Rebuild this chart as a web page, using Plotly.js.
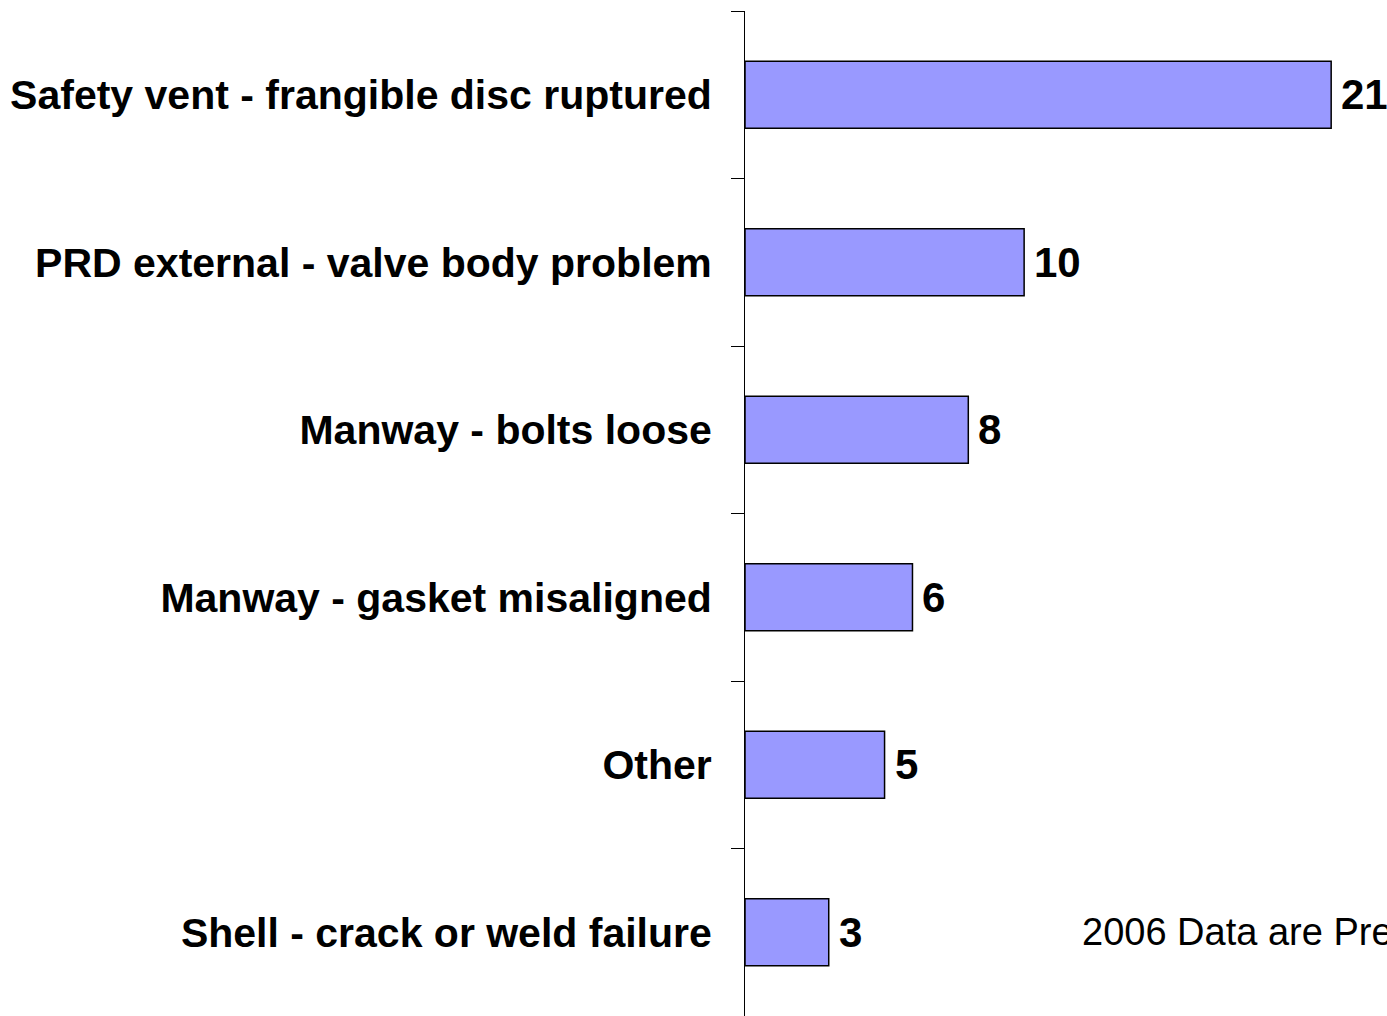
<!DOCTYPE html>
<html>
<head>
<meta charset="utf-8">
<script src="https://cdn.plot.ly/plotly-3.0.1.min.js"></script>
<style>html,body{margin:0;padding:0;background:#fff;overflow:hidden;}</style>
</head>
<body>
<div id="chart" style="width:1387px;height:1016px;"></div>
<script>
var categories = [
  "Safety vent - frangible disc ruptured",
  "PRD external - valve body problem",
  "Manway - bolts loose",
  "Manway - gasket misaligned",
  "Other",
  "Shell - crack or weld failure"
];
var counts = [21, 10, 8, 6, 5, 3];
var noteText = "2006 Data are Preliminary";

var font = "Liberation Sans, Arial, Helvetica, sans-serif";

var trace = {
  type: "bar",
  orientation: "h",
  y: categories,
  x: counts,
  marker: {color: "#9999FF", line: {color: "#000000", width: 1.5}},
  width: 0.4,
  hoverinfo: "none"
};

var valueLabels = categories.map(function (c, i) {
  return {
    xref: "x", yref: "y",
    x: counts[i], y: c,
    xanchor: "left", yanchor: "middle",
    xshift: 8,
    text: String(counts[i]),
    showarrow: false,
    font: {family: font, size: 42, color: "#000", weight: "bold"}
  };
});

var layout = {
  width: 1387,
  height: 1016,
  margin: {l: 745, r: 0, t: 11, b: 0, pad: 0},
  paper_bgcolor: "#ffffff",
  plot_bgcolor: "#ffffff",
  showlegend: false,
  xaxis: {
    range: [0, 23],
    visible: false,
    fixedrange: true
  },
  yaxis: {
    type: "category",
    autorange: "reversed",
    showline: true,
    linecolor: "#000000",
    linewidth: 1,
    ticks: "outside",
    tickson: "boundaries",
    ticklen: 13,
    tickwidth: 1,
    tickcolor: "#000000",
    ticklabelstandoff: 24,
    showgrid: false,
    zeroline: false,
    automargin: false,
    tickfont: {family: font, size: 41, color: "#000", weight: "bold"},
    fixedrange: true
  },
  annotations: valueLabels.concat([{
    xref: "x", yref: "y",
    x: 12.0, y: categories[5],
    xanchor: "left", yanchor: "middle",
    text: noteText,
    showarrow: false,
    font: {family: font, size: 38, color: "#000"}
  }])
};

Plotly.newPlot("chart", [trace], layout, {displayModeBar: false, staticPlot: true});
</script>
</body>
</html>
